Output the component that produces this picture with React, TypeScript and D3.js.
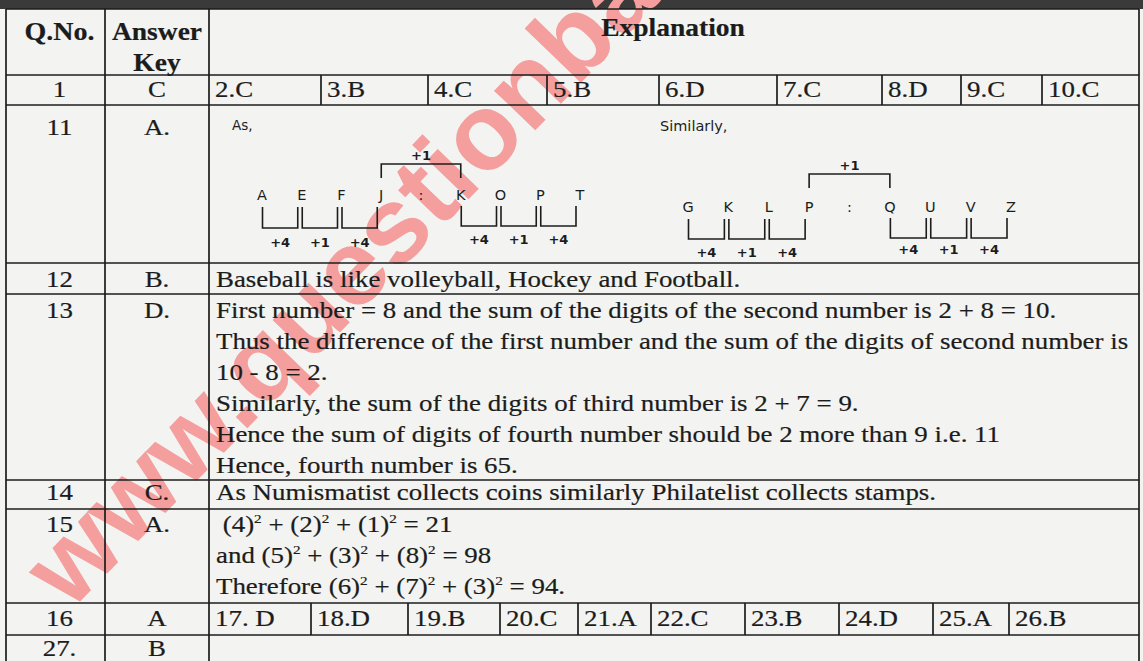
import React from "react";
import * as d3 from "d3";

// ---------- data ----------
const headerLabels = ["Q.No.", "Answer", "Key", "Explanation"];
const questionNumbers = ["1", "11", "12", "13", "14", "15", "16", "27."];
const answerKeys = ["C", "A.", "B.", "D.", "C.", "A.", "A", "B"];
const row1Answers = ["2.C", "3.B", "4.C", "5.B", "6.D", "7.C", "8.D", "9.C", "10.C"];
const row16Answers = ["17. D", "18.D", "19.B", "20.C", "21.A", "22.C", "23.B", "24.D", "25.A", "26.B"];
const explanation12 = ["Baseball is like volleyball, Hockey and Football."];
const explanation13 = [
  "First number = 8 and the sum of the digits of the second number is 2 + 8 = 10.",
  "Thus the difference of the first number and the sum of the digits of second number is",
  "10 - 8 = 2.",
  "Similarly, the sum of the digits of third number is 2 + 7 = 9.",
  "Hence the sum of digits of fourth number should be 2 more than 9 i.e. 11",
  "Hence, fourth number is 65.",
];
const explanation14 = ["As Numismatist collects coins similarly Philatelist collects stamps."];
const explanation15 = [
  " (4)^2 + (2)^2 + (1)^2 = 21",
  "and (5)^2 + (3)^2 + (8)^2 = 98",
  "Therefore (6)^2 + (7)^2 + (3)^2 = 94.",
];
const captionAs = "As,";
const captionSimilarly = "Similarly,";
const seriesAs = ["A", "E", "F", "J", ":", "K", "O", "P", "T"];
const seriesSimilarly = ["G", "K", "L", "P", ":", "Q", "U", "V", "Z"];
const stepLabels = ["+4", "+1", "+4"];
const linkLabel = "+1";
const watermarkText = "www.questionba";

// ---------- layout ----------
const W = 1143;
const H = 661;
const INK = "#1c1c1c";
const PAPER = "#f3f4f1";
const SERIF = "'Liberation Serif','Times New Roman',serif";
const SANS = "'DejaVu Sans',Verdana,sans-serif";
const SX = 1.17;
const X = { left: 6, c1: 105, c2: 209, right: 1139 };
const rowLines = [9, 75, 105, 263, 294, 480, 509, 603, 635];
const row1Borders = [321, 428, 547, 659, 777, 882, 961, 1042];
const row16Borders = [311, 408, 500, 578, 651, 745, 839, 933, 1009];
const qBaselines = [97, 135, 287, 318, 500, 532, 626, 656];
const lineStep = 31;

function SText(props: any) {
  const { x, y, anchor = "start", size = 23, weight = 400, sx = SX, children } = props;
  return (
    <text
      transform={`translate(${x},${y}) scale(${sx},1)`}
      textAnchor={anchor}
      fontFamily={SERIF}
      fontSize={size}
      fontWeight={weight}
      fill={INK}
      stroke={INK}
      strokeWidth={0.2}
      style={{ whiteSpace: "pre" }}
    >
      {children}
    </text>
  );
}

function withSup(s: string) {
  const parts = s.split("^2");
  const out: any[] = [];
  parts.forEach((p, i) => {
    out.push(
      <tspan key={"p" + i} dy={i > 0 ? 9 : 0}>
        {p}
      </tspan>
    );
    if (i < parts.length - 1)
      out.push(
        <tspan key={"s" + i} dy={-9} fontSize={13}>
          2
        </tspan>
      );
  });
  return out;
}

function Diagram(props: any) {
  const { letters, range, letterY, bL, bR, lblL, lblR, linkY, linkLblY } = props;
  const x = d3.scalePoint<number>().domain(d3.range(letters.length)).range(range);
  const bracket = (a: number, b: number, top: number, bottom: number) =>
    `M${a},${top}V${bottom}H${b}V${top}`;
  const link = (a: number, b: number, top: number, bottom: number) =>
    `M${a},${bottom}V${top}H${b}V${bottom}`;
  const groups = [
    { start: 0, y: bL, lbl: lblL },
    { start: 5, y: bR, lbl: lblR },
  ];
  return (
    <g>
      {letters.map((l: string, i: number) => (
        <text key={i} x={x(i)} y={letterY} textAnchor="middle" fontFamily={SANS} fontSize={14.5} fill={INK}>
          {l}
        </text>
      ))}
      {groups.map((g, gi) =>
        stepLabels.map((s, k) => {
          const a = (x(g.start + k) as number) + 0.5;
          const b = (x(g.start + k + 1) as number) - 4;
          return (
            <g key={gi + "-" + k}>
              <path d={bracket(a, b, g.y[0], g.y[1])} fill="none" stroke={INK} strokeWidth={1.6} />
              <text x={(a + b) / 2} y={g.lbl} textAnchor="middle" fontFamily={SANS} fontWeight={700} fontSize={13} fill={INK}>
                {s}
              </text>
            </g>
          );
        })
      )}
      <path d={link(x(3) as number, x(5) as number, linkY[0], linkY[1])} fill="none" stroke={INK} strokeWidth={1.6} />
      <text x={((x(3) as number) + (x(5) as number)) / 2} y={linkLblY} textAnchor="middle" fontFamily={SANS} fontWeight={700} fontSize={13} fill={INK}>
        {linkLabel}
      </text>
    </g>
  );
}

export default function App() {
  const hLine = (y: number, k: number) => (
    <line key={"h" + k} x1={X.left} x2={X.right} y1={y} y2={y} stroke={INK} strokeWidth={1.7} />
  );
  const vLine = (x: number, y1: number, y2: number, k: string) => (
    <line key={k} x1={x} x2={x} y1={y1} y2={y2} stroke={INK} strokeWidth={1.7} />
  );
  const col1c = (X.left + X.c1) / 2 + 4;
  const col2c = (X.c1 + X.c2) / 2;
  const tx = X.c2 + 7;
  const row1Starts = [X.c2, ...row1Borders];
  const row16Starts = [X.c2, ...row16Borders];

  return (
    <div style={{ position: "fixed", left: 0, top: 0, width: W, height: H }}>
      <svg width={W} height={H} style={{ display: "block" }}>
        <rect x={0} y={0} width={W} height={H} fill={PAPER} />
        <rect x={0} y={0} width={W} height={9} fill="#3a3a3a" />

        {/* watermark */}
        <text
          transform="translate(70,612) rotate(-46)"
          fontFamily="'Liberation Sans',Arial,sans-serif"
          fontWeight={700}
          fontSize={108}
          fill="#f49e9e"
        >
          {watermarkText}
        </text>

        {/* grid */}
        {rowLines.map((y, i) => hLine(y, i))}
        {vLine(X.left, rowLines[0], H, "vl")}
        {vLine(X.c1, rowLines[0], H, "v1")}
        {vLine(X.c2, rowLines[0], H, "v2")}
        {vLine(X.right, rowLines[0], H, "vr")}
        {row1Borders.map((x, i) => vLine(x, rowLines[1], rowLines[2], "r1" + i))}
        {row16Borders.map((x, i) => vLine(x, rowLines[7], rowLines[8], "r16" + i))}

        {/* header */}
        <SText x={col1c} y={40} anchor="middle" size={25} sx={1.12} weight={700}>{headerLabels[0]}</SText>
        <SText x={col2c} y={40} anchor="middle" size={25} sx={1.1} weight={700}>{headerLabels[1]}</SText>
        <SText x={col2c} y={71} anchor="middle" size={25} sx={1.1} weight={700}>{headerLabels[2]}</SText>
        <SText x={673} y={36} anchor="middle" size={25} sx={1.1} weight={700}>{headerLabels[3]}</SText>

        {/* question numbers / keys */}
        {questionNumbers.map((q, i) => (
          <SText key={"q" + i} x={col1c} y={qBaselines[i]} anchor="middle">{q}</SText>
        ))}
        {answerKeys.map((a, i) => (
          <SText key={"a" + i} x={col2c} y={qBaselines[i]} anchor="middle">{a}</SText>
        ))}

        {/* row 1 */}
        {row1Answers.map((t, i) => (
          <SText key={"r1t" + i} x={row1Starts[i] + 6} y={qBaselines[0]}>{t}</SText>
        ))}

        {/* row 11 diagrams */}
        <text x={232} y={130} fontFamily={SANS} fontSize={13.5} fill={INK}>{captionAs}</text>
        <text x={660} y={131} fontFamily={SANS} fontSize={14.5} fill={INK}>{captionSimilarly}</text>
        <Diagram
          letters={seriesAs}
          range={[262, 580]}
          letterY={200}
          bL={[207, 228]}
          bR={[206, 226]}
          lblL={247}
          lblR={244}
          linkY={[164, 178]}
          linkLblY={160}
        />
        <Diagram
          letters={seriesSimilarly}
          range={[688, 1011]}
          letterY={212}
          bL={[219, 239]}
          bR={[218, 238]}
          lblL={257}
          lblR={254}
          linkY={[174, 188]}
          linkLblY={170}
        />

        {/* explanations */}
        {explanation12.map((t, i) => (
          <SText key={"e12" + i} x={tx} y={qBaselines[2] + i * lineStep}>{t}</SText>
        ))}
        {explanation13.map((t, i) => (
          <SText key={"e13" + i} x={tx} y={qBaselines[3] + i * lineStep}>{t}</SText>
        ))}
        {explanation14.map((t, i) => (
          <SText key={"e14" + i} x={tx} y={qBaselines[4] + i * lineStep}>{t}</SText>
        ))}
        {explanation15.map((t, i) => (
          <SText key={"e15" + i} x={tx} y={qBaselines[5] + i * lineStep}>{withSup(t)}</SText>
        ))}

        {/* row 16 */}
        {row16Answers.map((t, i) => (
          <SText key={"r16t" + i} x={row16Starts[i] + 6} y={qBaselines[6]}>{t}</SText>
        ))}
      </svg>
    </div>
  );
}
